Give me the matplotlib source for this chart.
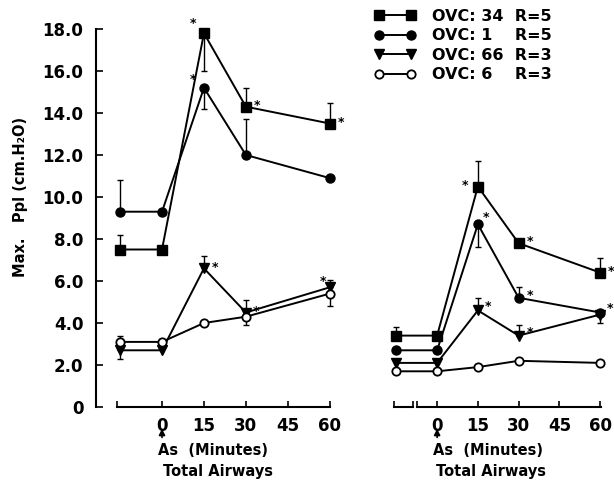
import matplotlib.pyplot as plt
from matplotlib.lines import Line2D

plt.rcParams['font.family'] = ['DejaVu Sans']
plt.rcParams['font.weight'] = 'bold'

# time points (minutes); first point is the baseline before As
times = [-15, 0, 15, 30, 60]

# left panel (values in cm H2O); err: + bar up, - bar down, 0 none
sq_left = [7.5, 7.5, 17.8, 14.3, 13.5]
sq_left_err = [0.7, 0, -1.8, 0.9, 1.0]
ci_left = [9.3, 9.3, 15.2, 12.0, 10.9]
ci_left_err = [1.5, 0, -1.0, 1.7, 0]
tr_left = [2.7, 2.7, 6.6, 4.5, 5.7]
tr_left_err = [-0.4, 0, 0.6, 0.6, 0.35]
op_left = [3.1, 3.1, 4.0, 4.3, 5.4]
op_left_err = [0.3, 0, 0, -0.4, -0.6]

# right panel
sq_right = [3.4, 3.4, 10.5, 7.8, 6.4]
sq_right_err = [0.4, 0, 1.2, 0, 0.7]
ci_right = [2.7, 2.7, 8.7, 5.2, 4.5]
ci_right_err = [0, 0, -1.1, 0.5, -0.5]
tr_right = [2.1, 2.1, 4.6, 3.4, 4.4]
tr_right_err = [0, 0, 0.6, 0.5, 0]
op_right = [1.7, 1.7, 1.9, 2.2, 2.1]
op_right_err = [0, 0, 0, 0, 0]

labels = ['OVC: 34  R=5', 'OVC: 1    R=5', 'OVC: 66  R=3', 'OVC: 6    R=3']
yticks = [0, 2, 4, 6, 8, 10, 12, 14, 16, 18]
ytick_labels = ['0', '2.0', '4.0', '6.0', '8.0', '10.0', '12.0', '14.0', '16.0', '18.0']
xticks = [0, 15, 30, 45, 60]

# significance marks: (series index, point index, dx, dy in points)
stars_left = [(0, 2, -8, 7), (1, 2, -8, 6), (0, 3, 8, 1), (0, 4, 8, 1),
              (2, 2, 8, 1), (2, 3, 7, 1), (2, 4, -5, 4)]
stars_right = [(0, 2, -9, 1), (1, 2, 6, 5), (0, 3, 8, 1), (0, 4, 8, 1),
               (1, 3, 8, 2), (2, 2, 7, 3), (2, 3, 8, 2), (1, 4, 7, 3)]

styles = [dict(marker='s', ms=6.5, mfc='black'),
          dict(marker='o', ms=6.5, mfc='black'),
          dict(marker='v', ms=7.5, mfc='black'),
          dict(marker='o', ms=6, mfc='white', mew=1.3)]

W, H = 614, 482
fig = plt.figure(figsize=(W / 100, H / 100), dpi=100)


def px_axes(left, right, top, bottom):
    return fig.add_axes([left / W, 1 - bottom / H, (right - left) / W, (bottom - top) / H])


def draw_panel(ax, series, errs, stars):
    for vals, err, st in zip(series, errs, styles):
        ax.plot(times, vals, color='black', lw=1.4, mec='black', clip_on=False, zorder=3, **st)
        idx = [i for i, e in enumerate(err) if e != 0]
        if idx:
            lo = [-err[i] if err[i] < 0 else 0 for i in idx]
            hi = [err[i] if err[i] > 0 else 0 for i in idx]
            ax.errorbar([times[i] for i in idx], [vals[i] for i in idx], yerr=[lo, hi],
                        fmt='none', ecolor='black', elinewidth=1, capsize=2.5, clip_on=False)
    for s, i, dx, dy in stars:
        ax.annotate('*', (times[i], series[s][i]), xytext=(dx, dy), textcoords='offset points',
                    ha='center', va='center', fontsize=9, fontweight='bold')
    ax.set_ylim(0, 18)
    ax.set_xlim(-23.6, 64)
    for side in ['top', 'right']:
        ax.spines[side].set_visible(False)
    ax.set_xticks(xticks)
    ax.set_xticklabels([str(t) for t in xticks], fontsize=12, fontweight='bold')
    ax.tick_params(axis='x', direction='in', length=4, width=1.2, pad=7)
    ax.tick_params(axis='x', which='minor', direction='in', length=4, width=1.2)
    ax.spines['bottom'].set_linewidth(1.5)
    # arrow and captions under 0
    tr = ax.get_xaxis_transform()
    ax.annotate('', xy=(0, -0.05), xytext=(0, -0.088), xycoords=tr, textcoords=tr,
                arrowprops=dict(arrowstyle='-|>', color='black', lw=1.2, mutation_scale=9))
    ax.text(-1.5, -0.114, 'As  (Minutes)', transform=tr, ha='left', va='center',
            fontsize=10.5, fontweight='bold')
    ax.text(20, -0.17, 'Total Airways', transform=tr, ha='center', va='center',
            fontsize=10.5, fontweight='bold')


axL = px_axes(96, 341, 29, 407)
draw_panel(axL, [sq_left, ci_left, tr_left, op_left],
           [sq_left_err, ci_left_err, tr_left_err, op_left_err], stars_left)
axL.spines['left'].set_bounds(0, 18)
axL.spines['left'].set_linewidth(1.5)
axL.spines['bottom'].set_bounds(-16, 60)
axL.set_xticks([-16], minor=True)
axL.set_yticks(yticks)
axL.set_yticklabels(ytick_labels, fontsize=12, fontweight='bold')
axL.tick_params(axis='y', direction='in', length=5, width=1.2, pad=9)

axR = px_axes(373, 611, 29, 407)
draw_panel(axR, [sq_right, ci_right, tr_right, op_right],
           [sq_right_err, ci_right_err, tr_right_err, op_right_err], stars_right)
axR.spines['left'].set_visible(False)
axR.set_yticks([])
axR.spines['bottom'].set_bounds(-7.5, 60.5)
axR.plot([-16, -9], [0, 0], color='black', lw=1.5, clip_on=False)
axR.set_xticks([-16, -9, -7.5], minor=True)

fig.text(21 / W, 1 - 197 / H, 'Max.   Ppl (cm.H\u2082O)', rotation=90, ha='center', va='center',
         fontsize=10.5, fontweight='bold')

handles = [Line2D([], [], color='black', lw=1.4, mec='black', **st) for st in styles]
fig.legend(handles, labels, loc='upper left', bbox_to_anchor=(374 / W, 1 - 9 / H),
           frameon=False, numpoints=2, handlelength=2.6, handletextpad=1.0,
           labelspacing=0.28, borderpad=0, borderaxespad=0,
           prop=dict(size=11.5, weight='bold'))

fig.savefig('out.png', dpi=100)
